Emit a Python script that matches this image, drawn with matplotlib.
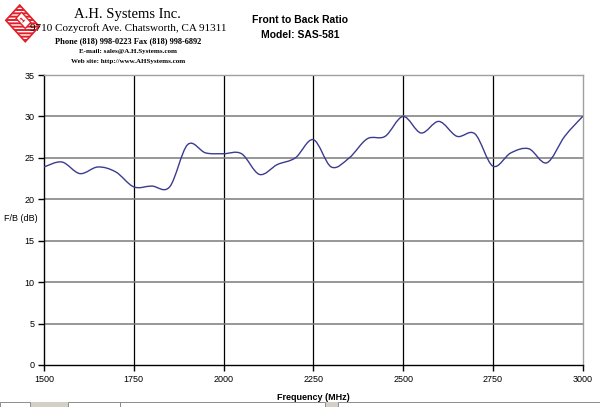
import numpy as np
import matplotlib
matplotlib.use('Agg')
import matplotlib.pyplot as plt
from matplotlib.path import Path
from matplotlib.patches import PathPatch, Polygon, Rectangle

# Front to back ratio
freq_mhz = [1500, 1550, 1600, 1650, 1700, 1750, 1800, 1850, 1900, 1950,
            2000, 2050, 2100, 2150, 2200, 2250, 2300, 2350, 2400, 2450,
            2500, 2550, 2600, 2650, 2700, 2750, 2800, 2850, 2900, 2950, 3000]
fb_db = [23.9, 24.5, 23.1, 23.9, 23.3, 21.5, 21.6, 21.5, 26.6, 25.6,
         25.5, 25.5, 23.0, 24.2, 25.0, 27.2, 23.9, 25.0, 27.3, 27.6,
         30.0, 28.0, 29.4, 27.6, 27.9, 24.0, 25.6, 26.1, 24.4, 27.6, 30.0]
x_ticks = [1500, 1750, 2000, 2250, 2500, 2750, 3000]
y_ticks = [0, 5, 10, 15, 20, 25, 30, 35]

plt.rcParams['font.family'] = ['Liberation Sans', 'DejaVu Sans']

fig = plt.figure(figsize=(6.0, 4.07), dpi=100)
ax = fig.add_axes([0.0733, 0.1032, 0.8978, 0.7125])

# smoothed line like Excel (bezier segments through the points)
pts = np.column_stack([freq_mhz, fb_db]).astype(float)
verts = [pts[0]]
codes = [Path.MOVETO]
n = len(pts)
for i in range(n - 1):
    p0 = pts[i - 1] if i > 0 else pts[i]
    p1 = pts[i]
    p2 = pts[i + 1]
    p3 = pts[i + 2] if i + 2 < n else pts[i + 1]
    verts += [p1 + (p2 - p0) / 6.0, p2 - (p3 - p1) / 6.0, p2]
    codes += [Path.CURVE4] * 3
ax.add_patch(PathPatch(Path(verts, codes), facecolor='none',
                       edgecolor='#3b3b8f', linewidth=1.0, zorder=3))

ax.set_xlim(1500, 3000)
ax.set_ylim(0, 35)
ax.set_xticks(x_ticks)
ax.set_yticks(y_ticks)
for t in x_ticks[1:-1]:
    ax.axvline(t, color='black', linewidth=0.9, zorder=1)
for t in y_ticks[1:-1]:
    ax.axhline(t, color='#7a7a7a', linewidth=1.1, zorder=1)

for s in ['left', 'bottom']:
    ax.spines[s].set_color('black')
    ax.spines[s].set_linewidth(1.0)
for s in ['top', 'right']:
    ax.spines[s].set_color('#a0a0a0')
    ax.spines[s].set_linewidth(1.0)
ax.tick_params(direction='out', length=4, width=1, labelsize=6.5, pad=3)

ax.set_xlabel('Frequency (MHz)', fontsize=6.5, fontweight='bold', labelpad=7)
fig.text(0.007, 0.462, 'F/B (dB)', fontsize=6.5, ha='left', va='center')

# titles
fig.text(0.5, 0.951, 'Front to Back Ratio', fontsize=7.5, fontweight='bold', ha='center', va='center')
fig.text(0.5, 0.914, 'Model: SAS-581', fontsize=7.5, fontweight='bold', ha='center', va='center')

# company header
serif = ['Liberation Serif', 'DejaVu Serif']
fig.text(0.213, 0.964, 'A.H. Systems Inc.', fontsize=10.5, family=serif, ha='center', va='center')
fig.text(0.213, 0.930, '9710 Cozycroft Ave. Chatsworth, CA 91311', fontsize=8, family=serif, ha='center', va='center')
fig.text(0.213, 0.899, 'Phone (818) 998-0223 Fax (818) 998-6892', fontsize=6, family=serif,
         fontweight='bold', ha='center', va='center')
fig.text(0.213, 0.874, 'E-mail: sales@A.H.Systems.com', fontsize=5, family=serif,
         fontweight='bold', ha='center', va='center')
fig.text(0.213, 0.848, 'Web site: http://www.AHSystems.com', fontsize=5, family=serif,
         fontweight='bold', ha='center', va='center')

# logo
logo = fig.add_axes([0.005, 0.895, 0.065, 0.095])
logo.set_xlim(0, 42)
logo.set_ylim(0, 38)
logo.axis('off')
logo.add_patch(Polygon([[3, 22], [18, 37], [39, 16], [24, 1]], closed=True,
                       facecolor='#e0202a', edgecolor='white', hatch='-----', linewidth=0))
logo.add_patch(Polygon([[3, 22], [18, 37], [39, 16], [24, 1]], closed=True,
                       facecolor='none', edgecolor='#e0202a', linewidth=1.2))
logo.add_patch(Polygon([[14, 24], [20, 30], [30, 20], [24, 14]], closed=True,
                       facecolor='white', edgecolor='#e0202a', linewidth=1.0))
logo.text(22, 22, '1', fontsize=6, color='#e0202a', fontweight='bold', ha='center', va='center', rotation=45)

# excel sheet tab strip at the bottom
strip = fig.add_axes([0.0, 0.0, 1.0, 0.012])
strip.set_xlim(0, 600)
strip.set_ylim(0, 5)
strip.axis('off')
strip.add_patch(Rectangle((0, 0), 600, 5, facecolor='#d4d0c8', edgecolor='none'))
for x0, w in [(0, 30), (68, 52), (120, 205), (338, 262)]:
    strip.add_patch(Rectangle((x0, 0), w, 5, facecolor='white', edgecolor='#808080', linewidth=0.6))

fig.savefig('out.png', dpi=100)
